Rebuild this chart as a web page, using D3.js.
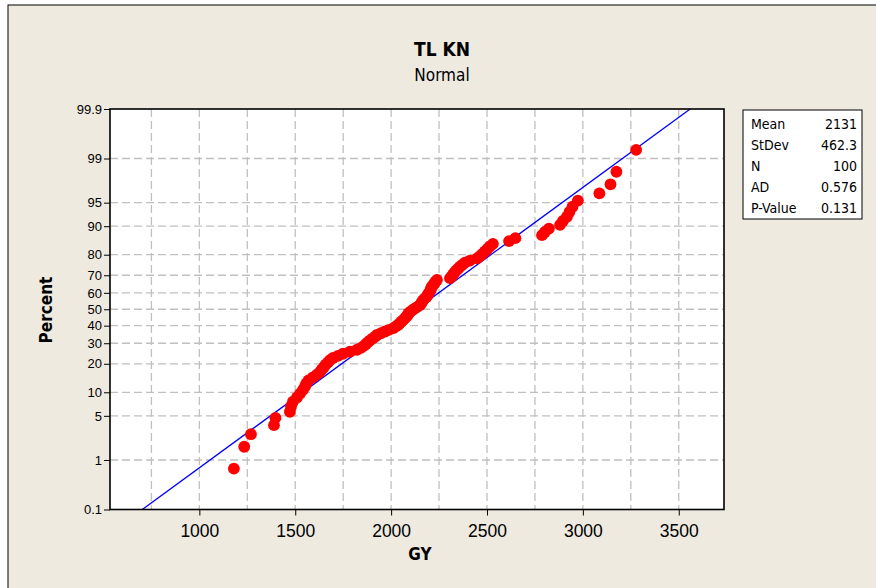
<!DOCTYPE html>
<html lang="en">

<head>
    <meta charset="UTF-8">
    <title>TL KN</title>
    <style>
        body {
            margin: 0;
            background: #fff;
        }

        svg {
            display: block;
            font-family: Tahoma, "DejaVu Sans Condensed", "DejaVu Sans", sans-serif;
        }
    </style>
</head>

<body>
    <svg width="876" height="588"></svg>

    <script src="https://d3js.org/d3.v7.min.js"></script>
    <script>
        // values, sorted (N = 100)
        const gyValues = [
            1180, 1234, 1269, 1389, 1397, 1472, 1478, 1488, 1509, 1525,
            1540, 1551, 1558, 1569, 1592, 1613, 1629, 1639, 1650, 1658,
            1671, 1681, 1697, 1723, 1749, 1785, 1822, 1843, 1858, 1869,
            1879, 1890, 1903, 1916, 1926, 1947, 1968, 1989, 2012, 2025,
            2038, 2046, 2054, 2064, 2072, 2080, 2088, 2090, 2101, 2111,
            2124, 2137, 2150, 2156, 2161, 2166, 2174, 2184, 2190, 2194,
            2200, 2205, 2208, 2211, 2218, 2226, 2231, 2239, 2307, 2317,
            2323, 2330, 2338, 2349, 2359, 2372, 2385, 2411, 2448, 2463,
            2476, 2489, 2502, 2515, 2531, 2615, 2648, 2787, 2802, 2823,
            2881, 2896, 2917, 2930, 2946, 2974, 3086, 3144, 3175, 3278
        ];

        const statLabels = ["Mean", "StDev", "N", "AD", "P-Value"];
        const statValues = ["2131", "462.3", "100", "0.576", "0.131"];
        const fitMean = 2131;
        const fitSd = 462.3;

        const xTicks = [1000, 1500, 2000, 2500, 3000, 3500];
        const xGrid = [750, 1000, 1250, 1500, 1750, 2000, 2250, 2500, 2750, 3000, 3250, 3500];
        const yTicks = [0.1, 1, 5, 10, 20, 30, 40, 50, 60, 70, 80, 90, 95, 99, 99.9];

        // inverse normal cdf (Acklam)
        function probit(p) {
            const a = [-39.69683028665376, 220.9460984245205, -275.9285104469687, 138.357751867269, -30.66479806614716, 2.506628277459239];
            const b = [-54.47609879822406, 161.5858368580409, -155.6989798598866, 66.80131188771972, -13.28068155288572];
            const c = [-0.007784894002430293, -0.3223964580411365, -2.400758277161838, -2.549732539343734, 4.374664141464968, 2.938163982698783];
            const d = [0.007784695709041462, 0.3224671290700398, 2.445134137142996, 3.754408661907416];
            const pl = 0.02425;
            let q, r;
            if (p < pl) {
                q = Math.sqrt(-2 * Math.log(p));
                return (((((c[0] * q + c[1]) * q + c[2]) * q + c[3]) * q + c[4]) * q + c[5]) / ((((d[0] * q + d[1]) * q + d[2]) * q + d[3]) * q + 1);
            }
            if (p > 1 - pl) {
                q = Math.sqrt(-2 * Math.log(1 - p));
                return -(((((c[0] * q + c[1]) * q + c[2]) * q + c[3]) * q + c[4]) * q + c[5]) / ((((d[0] * q + d[1]) * q + d[2]) * q + d[3]) * q + 1);
            }
            q = p - 0.5;
            r = q * q;
            return (((((a[0] * r + a[1]) * r + a[2]) * r + a[3]) * r + a[4]) * r + a[5]) * q / (((((b[0] * r + b[1]) * r + b[2]) * r + b[3]) * r + b[4]) * r + 1);
        }

        const svg = d3.select("svg");

        // figure background + frame
        svg.append("rect")
            .attr("x", 8).attr("y", 5)
            .attr("width", 900).attr("height", 620)
            .attr("fill", "#eeeae0")
            .attr("stroke", "#000")
            .attr("stroke-width", 1);

        const plotL = 110, plotR = 724, plotT = 109, plotB = 509.5;

        const x = d3.scaleLinear().domain([534, 3736]).range([plotL, plotR]);
        const y = d3.scaleLinear().domain([probit(0.001), probit(0.999)]).range([plotB, plotT]);

        svg.append("rect")
            .attr("x", plotL).attr("y", plotT)
            .attr("width", plotR - plotL).attr("height", plotB - plotT)
            .attr("fill", "#fff");

        // grid
        const grid = svg.append("g")
            .attr("stroke", "#c0c0c0")
            .attr("stroke-width", 1.3)
            .attr("stroke-dasharray", "8,4");

        grid.selectAll("line.v")
            .data(xGrid)
            .enter()
            .append("line")
            .attr("x1", d => x(d)).attr("x2", d => x(d))
            .attr("y1", plotT).attr("y2", plotB);

        grid.selectAll("line.h")
            .data(yTicks.slice(1, -1))
            .enter()
            .append("line")
            .attr("x1", plotL).attr("x2", plotR)
            .attr("y1", d => y(probit(d / 100))).attr("y2", d => y(probit(d / 100)));

        // fitted line
        const zLo = probit(0.001), zHi = probit(0.999);
        svg.append("line")
            .attr("x1", x(fitMean + fitSd * zLo)).attr("y1", y(zLo))
            .attr("x2", x(fitMean + fitSd * zHi)).attr("y2", y(zHi))
            .attr("stroke", "#0000ff")
            .attr("stroke-width", 1.3);

        // points, median ranks
        const n = gyValues.length;
        svg.append("g")
            .selectAll("circle")
            .data(gyValues)
            .enter()
            .append("circle")
            .attr("cx", d => x(d))
            .attr("cy", (d, i) => y(probit((i + 1 - 0.3) / (n + 0.4))))
            .attr("r", 5.9)
            .attr("fill", "#ff0000");

        // plot frame
        svg.append("rect")
            .attr("x", plotL).attr("y", plotT)
            .attr("width", plotR - plotL).attr("height", plotB - plotT)
            .attr("fill", "none")
            .attr("stroke", "#000")
            .attr("stroke-width", 1.6);

        // axes
        const xAxis = d3.axisBottom(x)
            .tickValues(xTicks)
            .tickSize(6)
            .tickSizeOuter(0)
            .tickFormat(d3.format("d"));

        const gx = svg.append("g")
            .attr("transform", `translate(0,${plotB})`)
            .call(xAxis);
        gx.select(".domain").remove();
        gx.selectAll("text")
            .attr("font-family", null)
            .attr("font-size", 17.5)
            .attr("dy", "1.05em")
            .attr("fill", "#000");

        const yAxis = d3.axisLeft(y)
            .tickValues(yTicks.map(d => probit(d / 100)))
            .tickSize(6)
            .tickSizeOuter(0)
            .tickFormat((d, i) => yTicks[i]);

        const gy = svg.append("g")
            .attr("transform", `translate(${plotL},0)`)
            .call(yAxis);
        gy.select(".domain").remove();
        gy.selectAll("text")
            .attr("font-family", null)
            .attr("font-size", 13)
            .attr("x", -8)
            .attr("fill", "#000");

        // titles
        svg.append("text")
            .attr("x", 442).attr("y", 56)
            .attr("text-anchor", "middle")
            .attr("font-size", 19)
            .attr("font-weight", "bold")
            .text("TL KN");

        svg.append("text")
            .attr("x", 442).attr("y", 81)
            .attr("text-anchor", "middle")
            .attr("font-size", 17)
            .text("Normal");

        svg.append("text")
            .attr("x", 420).attr("y", 560)
            .attr("text-anchor", "middle")
            .attr("font-size", 17)
            .attr("font-weight", "bold")
            .text("GY");

        svg.append("text")
            .attr("transform", "translate(52,310) rotate(-90)")
            .attr("text-anchor", "middle")
            .attr("font-size", 17)
            .attr("font-weight", "bold")
            .text("Percent");

        // stats box
        const box = svg.append("g").attr("transform", "translate(743,110)");
        box.append("rect")
            .attr("width", 119).attr("height", 109)
            .attr("fill", "#fff")
            .attr("stroke", "#000")
            .attr("stroke-width", 1);

        box.selectAll("text.lab")
            .data(statLabels)
            .enter()
            .append("text")
            .attr("x", 8)
            .attr("y", (d, i) => 19 + i * 21)
            .attr("font-size", 14)
            .text(d => d);

        box.selectAll("text.val")
            .data(statValues)
            .enter()
            .append("text")
            .attr("x", 114)
            .attr("y", (d, i) => 19 + i * 21)
            .attr("text-anchor", "end")
            .attr("font-size", 14)
            .text(d => d);
    </script>
</body>

</html>
